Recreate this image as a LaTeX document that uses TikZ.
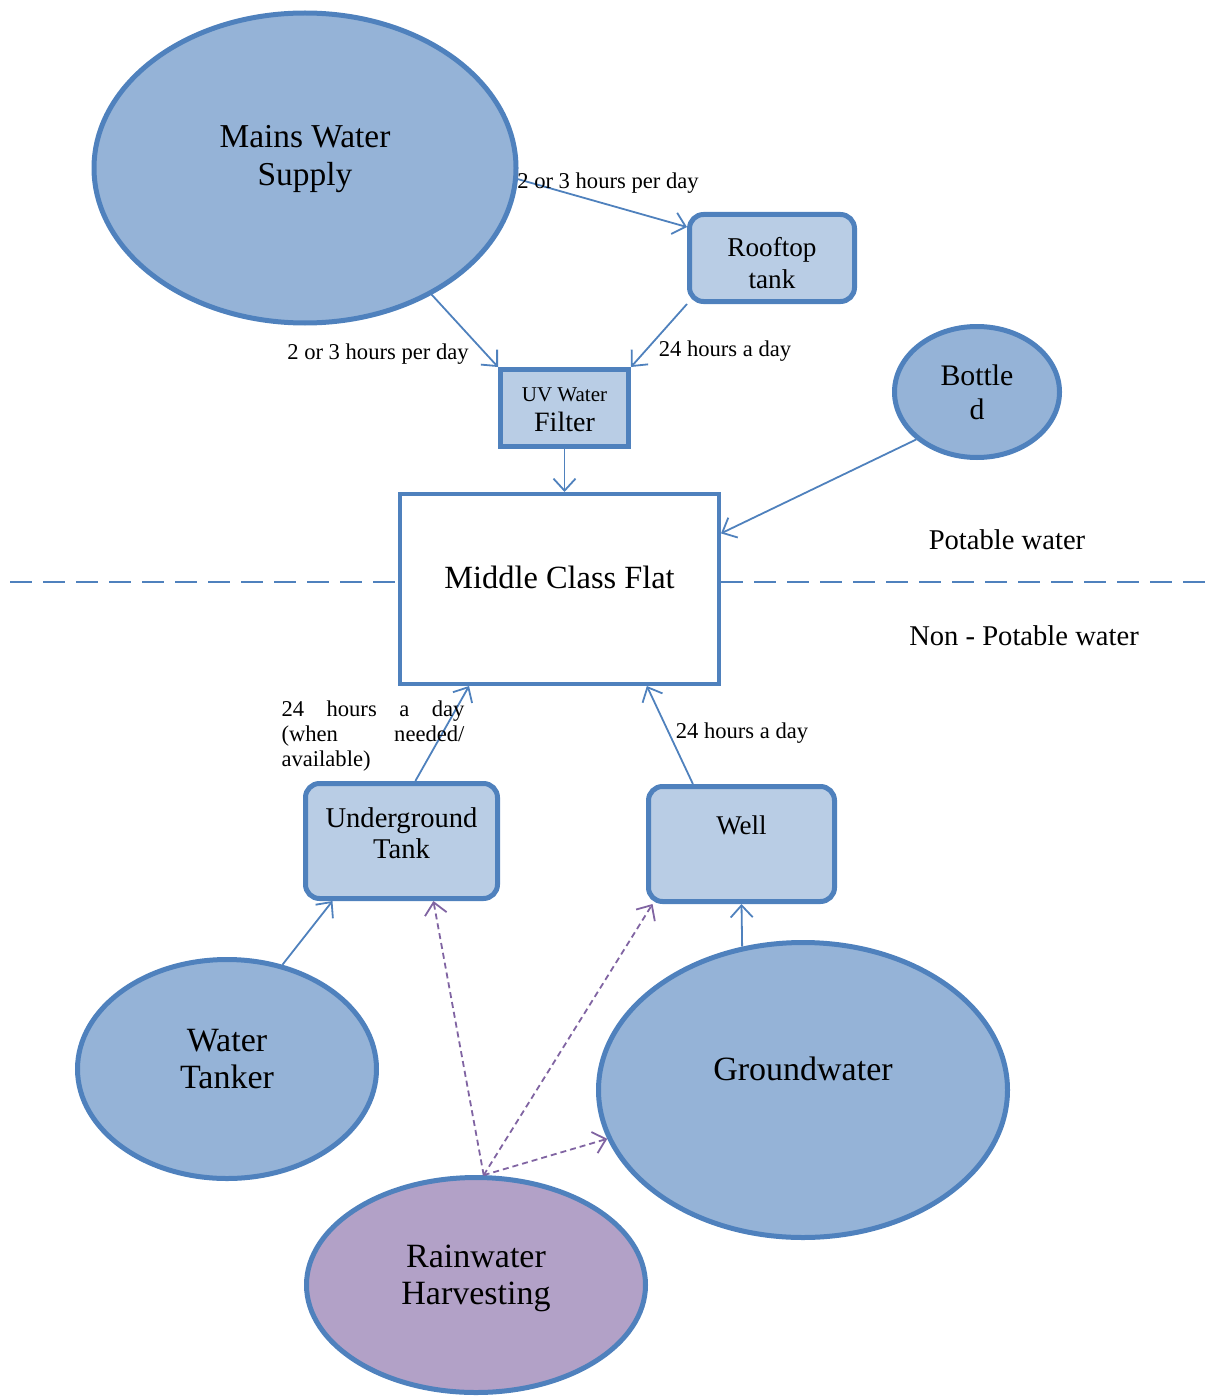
\documentclass[tikz,border=0pt]{standalone}
\usepackage{fontspec}
\setmainfont{Liberation Serif}
\usepackage{xcolor}
\usetikzlibrary{arrows.meta,positioning,shapes.geometric}
\definecolor{lineblue}{HTML}{4F81BD}
\definecolor{bubblefill}{HTML}{95B3D7}
\definecolor{boxfill}{HTML}{B9CDE5}
\definecolor{rainfill}{HTML}{B2A1C7}
\definecolor{rainline}{HTML}{8064A2}

\begin{document}
\begin{tikzpicture}[
  x=0.5pt, y=-0.5pt,
  bubble/.style={ellipse, draw=lineblue, line width=2.5pt, fill=bubblefill},
  tankbox/.style={rectangle, rounded corners=7pt, draw=lineblue, line width=2.5pt, fill=boxfill},
  filterbox/.style={rectangle, draw=lineblue, line width=2.5pt, fill=boxfill},
  txt/.style={align=center, inner sep=0pt, draw=none, fill=none},
  bigtext/.style={txt, font=\fontsize{17}{18.5}\selectfont},
  midtext/.style={txt, font=\fontsize{14.3}{15.5}\selectfont},
  note/.style={inner sep=0pt, font=\fontsize{11.3}{12.5}\selectfont},
  zonetext/.style={inner sep=0pt, font=\fontsize{14.3}{16}\selectfont},
  flow/.style={-{Straight Barb[length=6pt,width=11pt]}, draw=lineblue, line width=0.9pt},
  rainflow/.style={flow, draw=rainline, dash pattern=on 3pt off 2pt},
  divider/.style={draw=lineblue, line width=1pt, dash pattern=on 11pt off 5.5pt}
]
\useasboundingbox (0,0) rectangle (1217,1396);

% Potable sources
\node[bubble, minimum width=211pt, minimum height=155pt,
  label={[bigtext, font=\fontsize{16.7}{19}\selectfont, yshift=4.5pt]center:Mains Water\\Supply}] (mains) at (305,168) {};
\node[tankbox, minimum width=82.5pt, minimum height=43.5pt,
  label={[midtext, font=\fontsize{13.6}{16}\selectfont, yshift=-2.5pt]center:Rooftop\\tank}] (rooftop) at (772,258) {};
\node[filterbox, minimum width=64pt, minimum height=38.5pt,
  label={[txt, font=\fontsize{14}{15}\selectfont, yshift=-1pt]center:{\fontsize{10.5}{15}\selectfont UV Water}\\Filter}] (uvfilter) at (564.5,408) {};
\node[bubble, minimum width=82.5pt, minimum height=65.5pt,
  label={[midtext, font=\fontsize{14.9}{17}\selectfont]center:Bottle\\d}] (bottled) at (977,392) {};

% The flat and the divide
\coordinate (divleft) at (10,582);
\coordinate (divright) at (1207,582);
\draw[divider] (divleft) -- (divleft -| 398,0);
\draw[divider] (divright -| 721,0) -- (divright);
\node[rectangle, draw=lineblue, line width=2pt, fill=white, minimum width=159.5pt, minimum height=95pt,
  label={[txt, font=\fontsize{16.2}{18}\selectfont, yshift=6pt]center:Middle Class Flat}] (flat) at (559.5,589) {};
\node[zonetext] (potable) at (1007,540) {Potable water};
\node[zonetext] (nonpotable) at (1024,636) {Non - Potable water};

% Non-potable sources
\node[tankbox, minimum width=96pt, minimum height=57.5pt,
  label={[midtext, yshift=4pt]center:Underground\\Tank}] (ugtank) at (401.5,841) {};
\node[tankbox, minimum width=93pt, minimum height=57.5pt,
  label={[midtext, font=\fontsize{13.5}{15}\selectfont, yshift=9.5pt]center:Well}] (well) at (741.5,844) {};
\node[bubble, minimum width=149.5pt, minimum height=109.5pt,
  label={[bigtext, yshift=5pt]center:Water\\Tanker}] (tanker) at (227,1069) {};
\node[bubble, minimum width=204.5pt, minimum height=147.5pt,
  label={[bigtext, yshift=10.5pt]center:Groundwater}] (groundwater) at (803,1090) {};
\node[bubble, fill=rainfill, minimum width=169.5pt, minimum height=107.5pt,
  label={[bigtext, yshift=3.5pt]center:Rainwater\\Harvesting}] (rainwater) at (476,1285) {};

% Flows
\draw[flow] (mains.-3) -- (rooftop.160);
\draw[flow] (mains.-45) -- (uvfilter.north west);
\draw[flow] (rooftop.south west) -- (uvfilter.north east);
\draw[flow] (uvfilter.south) -- (uvfilter.south |- flat.north);
\draw[flow] (bottled.-142) -- (flat.19);
\draw[flow] (ugtank.77) -- (flat.-133);
\draw[flow] (well.129) -- (flat.-48);
\draw[flow] (tanker.62) -- (ugtank.-139);
\draw[flow] (groundwater.113) -- (well.south);
\draw[rainflow] (rainwater.86) -- (ugtank.-62);
\draw[rainflow] (rainwater.86) -- (well.-146);
\draw[rainflow] (rainwater.86) -- (groundwater.-166);

% Flow labels
\node[note] (lblmainsroof) at (608,183) {2 or 3 hours per day};
\node[note] (lblmainsuv) at (378,354) {2 or 3 hours per day};
\node[note] (lblroofuv) at (725,351) {24 hours a day};
\node[note, text width=91.5pt, align=left] (lbltank) at (373,736) {24\hfill hours\hfill a\hfill day\\(when\hfill needed/\\available)};
\node[note] (lblwell) at (742,733) {24 hours a day};

\end{tikzpicture}
\end{document}
